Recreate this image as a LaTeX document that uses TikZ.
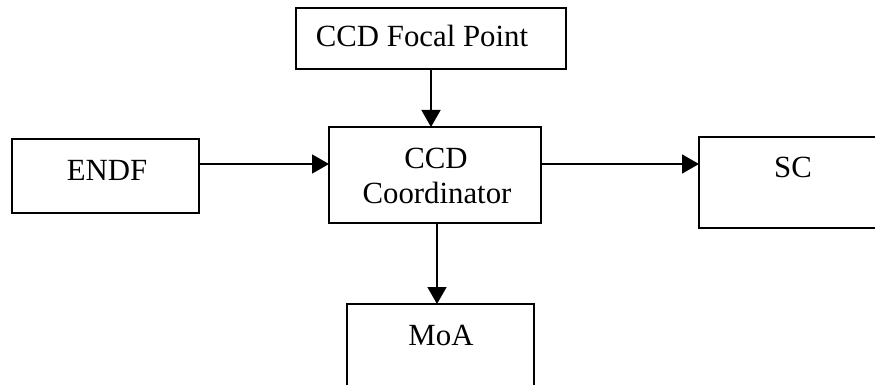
\documentclass[tikz,border=0pt]{standalone}
\usepackage{fontspec}
\setmainfont{Liberation Serif}
\usetikzlibrary{arrows.meta}

\begin{document}
\begin{tikzpicture}[x=1pt,y=-1pt,
  box/.style={draw=black, line width=1.5pt, rectangle, inner sep=0pt, outer sep=0pt},
  lbl/.style={inner sep=0pt, anchor=base, font=\fontsize{30.8}{35}\selectfont},
  arr/.style={line width=1.5pt, -{Triangle[length=17pt,width=19pt]}}]
  \useasboundingbox (0,0) rectangle (875,385);
  \clip (0,0) rectangle (875,385);

  % boxes
  \node[box, minimum width=270pt, minimum height=61pt] (focal) at (431,38.5) {};
  \node[box, minimum width=187pt, minimum height=74pt] (endf) at (105.5,176) {};
  \node[box, minimum width=212pt, minimum height=96pt] (coord) at (435,175) {};
  \node[box, minimum width=191pt, minimum height=91pt] (sc) at (794.5,182.5) {};
  \node[box, minimum width=187pt, minimum height=96pt] (moa) at (440.5,352) {};

  % labels
  \node[lbl] (focalt) at (422,47) {CCD Focal Point};
  \node[lbl] (endft) at (107,180) {ENDF};
  \node[lbl] (coordt1) at (436,168) {CCD};
  \node[lbl] (coordt2) at (437,203) {Coordinator};
  \node[lbl] (sct) at (793,177) {SC};
  \node[lbl] (moat) at (441,345) {MoA};

  % connector rails
  \coordinate (h) at (0,164);
  \coordinate (v) at (437,0);

  % connectors
  \draw[arr] (focal.south) -- (focal.south |- coord.north);
  \draw[arr] (endf.east |- h) -- (coord.west |- h);
  \draw[arr] (coord.east |- h) -- (sc.west |- h);
  \draw[arr] (coord.south -| v) -- (moa.north -| v);
\end{tikzpicture}
\end{document}
